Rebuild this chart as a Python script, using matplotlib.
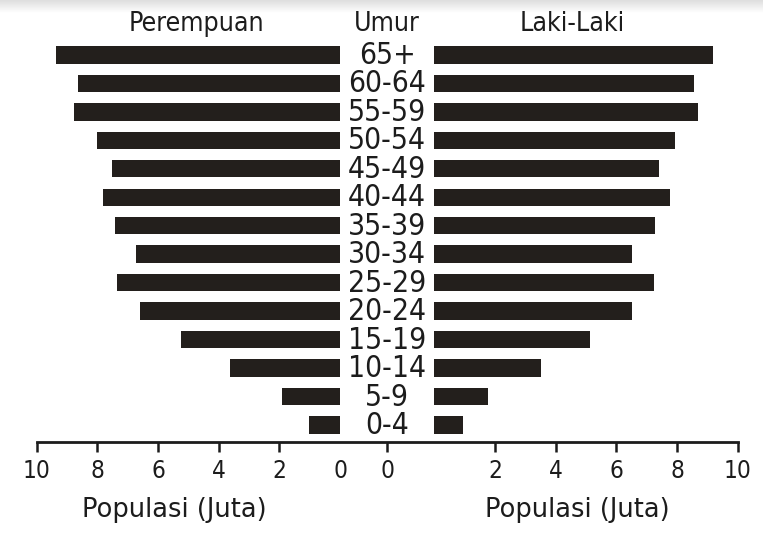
import numpy as np
import matplotlib.pyplot as plt

# age groups, bottom to top
umur = ['0-4', '5-9', '10-14', '15-19', '20-24', '25-29', '30-34',
        '35-39', '40-44', '45-49', '50-54', '55-59', '60-64', '65+']
# population in millions
perempuan = [1.02, 1.91, 3.62, 5.23, 6.61, 7.36, 6.71,
             7.43, 7.81, 7.53, 8.01, 8.76, 8.65, 9.35]
laki_laki = [0.95, 1.78, 3.52, 5.13, 6.52, 7.24, 6.52,
             7.27, 7.77, 7.40, 7.93, 8.69, 8.56, 9.18]
tick_vals = [10, 8, 6, 4, 2, 0]

plt.rcParams['font.family'] = 'DejaVu Sans'
plt.rcParams['font.stretch'] = 'condensed'

bar_color = '#231f1c'
text_color = '#1c1c1c'
gap = 1.55  # half width of the centre column, in axis units

fig = plt.figure(figsize=(7.63, 5.39), dpi=100)

# faint grey shade along the top edge
shade = fig.add_axes([0, 1 - 13 / 539, 1, 13 / 539])
grad = np.linspace(0.87, 1.0, 50).reshape(-1, 1)
shade.imshow(grad, cmap='gray', vmin=0, vmax=1, aspect='auto',
             extent=[0, 1, 0, 1], origin='upper')
shade.axis('off')

ax = fig.add_axes([0.048, 0.180, 0.919, 0.820])
ax.patch.set_alpha(0)

y = np.arange(len(umur))
ax.barh(y, -np.array(perempuan), left=-gap, height=0.61, color=bar_color)
ax.barh(y, laki_laki, left=gap, height=0.61, color=bar_color)

for yi, lab in zip(y, umur):
    ax.text(0, yi - 0.02, lab, ha='center', va='center', fontsize=21.5,
            color=text_color)

top = len(umur) + 0.1
ax.text(-6.27, top, 'Perempuan', ha='center', va='center', fontsize=19.2,
        color=text_color)
ax.text(0, top, 'Umur', ha='center', va='center', fontsize=19.2,
        color=text_color)
ax.text(6.08, top, 'Laki-Laki', ha='center', va='center', fontsize=19.2,
        color=text_color)

# x ticks: left side mirrored, right side shifted past the centre column
left_pos = [-(v + gap) for v in tick_vals]
right_pos = [0] + [v + gap for v in tick_vals[::-1] if v > 0]
right_lab = ['0'] + [str(v) for v in tick_vals[::-1] if v > 0]
ax.set_xticks(left_pos + right_pos)
ax.set_xticklabels([str(v) for v in tick_vals] + right_lab, fontsize=17.5)
ax.xaxis.get_major_ticks()[len(tick_vals) - 1].tick1line.set_visible(False)

ax.set_xlim(-10 - gap, 10 + gap)
ax.set_ylim(-0.6, len(umur) + 0.93)
ax.set_yticks([])
for s in ['top', 'left', 'right']:
    ax.spines[s].set_visible(False)
ax.spines['bottom'].set_linewidth(2.0)
ax.spines['bottom'].set_color(text_color)
ax.tick_params(axis='x', length=7.5, width=1.8, pad=5, colors=text_color)

for xc in [-7.0, 6.25]:
    ax.annotate('Populasi (Juta)', xy=(xc, 0), xycoords=('data', 'axes fraction'),
                xytext=(0, -54), textcoords='offset points', ha='center',
                va='baseline', fontsize=18.5, fontstretch='normal',
                color=text_color)

fig.savefig('out.png', dpi=100, facecolor='white')
